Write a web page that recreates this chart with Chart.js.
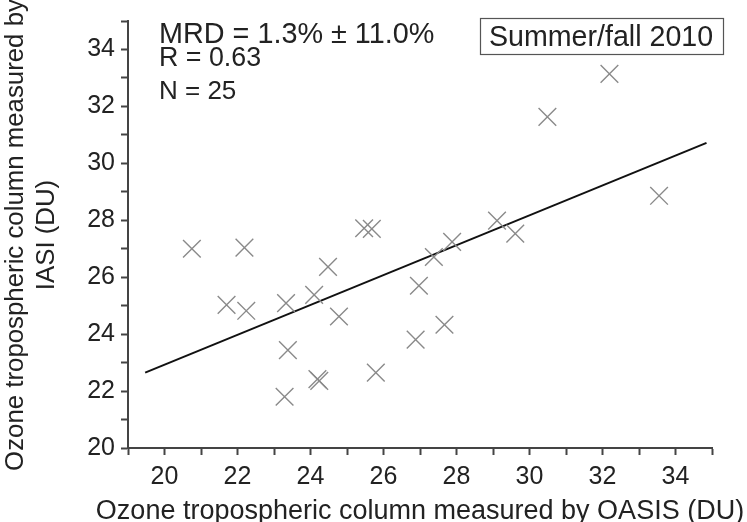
<!DOCTYPE html>
<html>
<head>
<meta charset="utf-8">
<script src="https://cdn.jsdelivr.net/npm/chart.js@4/dist/chart.umd.min.js"></script>
<style>
  html, body { margin: 0; padding: 0; background: #fff; }
  #wrap { width: 747px; height: 522px; position: relative; }
</style>
</head>
<body>
<div id="wrap"><canvas id="scatter"></canvas></div>
<script>
// OASIS (x) vs IASI (y) ozone tropospheric columns, summer/fall 2010
var oasis = [20.75, 22.19, 21.70, 22.24, 23.33, 23.38, 23.29, 24.10, 24.19, 24.24,
             24.48, 24.78, 25.47, 25.68, 25.79, 26.97, 26.88, 27.38, 27.67, 27.88,
             29.11, 29.61, 33.55, 32.19, 30.49];
var iasi  = [27.00, 27.04, 25.03, 24.82, 25.09, 23.44, 21.80, 25.38, 22.42, 22.36,
             26.36, 24.62, 27.72, 27.70, 22.65, 25.70, 23.81, 26.71, 24.33, 27.24,
             27.99, 27.53, 28.86, 33.14, 31.63];

// regression line end points
var fitX = [19.47, 34.85];
var fitY = [22.65, 30.72];

var xTicks = [20, 22, 24, 26, 28, 30, 32, 34];
var yTicks = [20, 22, 24, 26, 28, 30, 32, 34];

var xTitle = "Ozone tropospheric column measured by OASIS (DU)";
var yTitle = ["Ozone tropospheric column measured by", "IASI (DU)"];
var statLines = ["MRD = 1.3% \u00b1 11.0%", "R = 0.63", "N = 25"];
var seasonLabel = "Summer/fall 2010";

var pts = [];
for (var i = 0; i < oasis.length; i++) {
  pts.push({x: oasis[i], y: iasi[i]});
}
var fit = [];
for (var j = 0; j < fitX.length; j++) {
  fit.push({x: fitX[j], y: fitY[j]});
}

var FONT = "'Liberation Sans', Arial, sans-serif";

// axis titles (drawn here so they are not squeezed to the axis length),
// the stats block and the boxed season label
var annotations = {
  id: "annotations",
  afterDraw: function(chart) {
    var ctx = chart.ctx;
    var area = chart.chartArea;
    ctx.save();
    ctx.fillStyle = "#222";

    ctx.textAlign = "center";
    ctx.textBaseline = "alphabetic";
    ctx.font = "27px " + FONT;
    ctx.fillText(xTitle, (area.left + area.right) / 2, 519);

    ctx.save();
    ctx.translate(0, 235);
    ctx.rotate(-Math.PI / 2);
    ctx.textBaseline = "middle";
    ctx.font = "25.8px " + FONT;
    ctx.fillText(yTitle[0], 0, 16);
    ctx.fillText(yTitle[1], 0, 47);
    ctx.restore();

    ctx.textAlign = "left";
    ctx.textBaseline = "alphabetic";
    ctx.font = "28.8px " + FONT;
    ctx.fillText(statLines[0], 159, 43);
    ctx.font = "26.8px " + FONT;
    ctx.fillText(statLines[1], 159, 66);
    ctx.font = "26px " + FONT;
    ctx.fillText(statLines[2], 159, 99);

    ctx.strokeStyle = "#555";
    ctx.lineWidth = 1.2;
    ctx.strokeRect(480.5, 18.5, 243, 36);
    ctx.font = "28.6px " + FONT;
    ctx.fillText(seasonLabel, 489, 46);
    ctx.restore();
  }
};

new Chart(document.getElementById("scatter"), {
  type: "scatter",
  data: {
    datasets: [
      {
        label: "points",
        data: pts,
        pointStyle: "crossRot",
        pointRadius: 12.5,
        pointBorderWidth: 1.4,
        borderColor: "#8a8a8a",
        backgroundColor: "#8a8a8a"
      },
      {
        type: "line",
        label: "fit",
        data: fit,
        borderColor: "#111",
        borderWidth: 2,
        pointRadius: 0,
        fill: false,
        tension: 0
      }
    ]
  },
  options: {
    responsive: true,
    maintainAspectRatio: false,
    animation: false,
    layout: { padding: { top: 18, right: 35, left: 0, bottom: 0 } },
    plugins: {
      legend: { display: false },
      tooltip: { enabled: false }
    },
    scales: {
      x: {
        type: "linear",
        min: 19,
        max: 35,
        afterFit: function(scale) { scale.height = 74; },
        afterBuildTicks: function(scale) {
          var t = [];
          for (var v = 19; v <= 35; v++) t.push({value: v});
          scale.ticks = t;
        },
        ticks: {
          color: "#222",
          font: { family: FONT, size: 25 },
          padding: 7,
          maxRotation: 0,
          autoSkip: false,
          callback: function(v) { return xTicks.indexOf(v) >= 0 ? String(v) : ""; }
        },
        grid: { drawOnChartArea: false, tickLength: 7, tickColor: "#444", tickWidth: 2 },
        border: { display: true, color: "#444", width: 2 },
        title: { display: false }
      },
      y: {
        type: "linear",
        min: 20,
        max: 35,
        afterFit: function(scale) { scale.width = 128; },
        afterBuildTicks: function(scale) {
          var t = [];
          for (var v = 20; v <= 35; v++) t.push({value: v});
          scale.ticks = t;
        },
        ticks: {
          color: "#222",
          font: { family: FONT, size: 25 },
          padding: 6,
          autoSkip: false,
          callback: function(v) { return yTicks.indexOf(v) >= 0 ? String(v) : ""; }
        },
        grid: { drawOnChartArea: false, tickLength: 7, tickColor: "#444", tickWidth: 2 },
        border: { display: true, color: "#444", width: 2 },
        title: { display: false }
      }
    }
  },
  plugins: [annotations]
});
</script>
</body>
</html>
